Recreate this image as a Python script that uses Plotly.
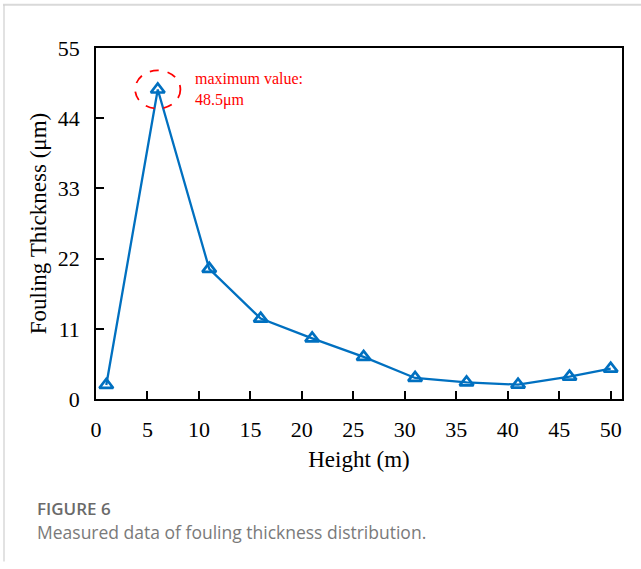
import plotly.graph_objects as go

# ---- data ----
heights = [1, 6, 11, 16, 21, 26, 31, 36, 41, 46, 50]
thickness = [2.2, 48.5, 20.4, 12.6, 9.5, 6.6, 3.3, 2.6, 2.25, 3.5, 4.75]
x_ticks = [0, 5, 10, 15, 20, 25, 30, 35, 40, 45, 50]
y_ticks = [0, 11, 22, 33, 44, 55]
x_title = "Height (m)"
y_title = "Fouling Thickness (μm)"
note_text = "maximum value:<br>48.5μm"
caption_title = "FIGURE 6"
caption_text = "Measured data of fouling thickness distribution."

W, H = 641, 569
L, R, T, B = 96, 19, 47.7, 169.7
pw, ph = W - L - R, H - T - B

def px(xp):
    return (xp - L) / pw

def py(yp):
    return (H - B - yp) / ph

BLUE = "#0070C0"
SERIF = "Liberation Serif, Times New Roman, serif"
SANS = "Open Sans, Noto Sans, sans-serif"

fig = go.Figure()
fig.add_trace(go.Scatter(
    x=heights, y=thickness, mode="lines+markers",
    line=dict(color=BLUE, width=2.3),
    marker=dict(symbol="triangle-up-open", size=12, color=BLUE,
                line=dict(color=BLUE, width=2.7)),
    showlegend=False, cliponaxis=False,
))

i_max = thickness.index(max(thickness))
mx, my = heights[i_max], thickness[i_max]

shapes = [
    dict(type="circle", xref="x", yref="y",
         x0=mx - 2.2, x1=mx + 2.2, y0=my - 3.0, y1=my + 3.0,
         line=dict(color="#FF0000", width=1.8, dash="dash")),
    # card borders
    dict(type="line", xref="paper", yref="paper",
         x0=px(3), x1=px(641), y0=py(4.5), y1=py(4.5),
         line=dict(color="#d9d9d9", width=2)),
    dict(type="line", xref="paper", yref="paper",
         x0=px(4), x1=px(4), y0=py(4.5), y1=py(562),
         line=dict(color="#cfcfcf", width=1.2)),
]

annotations = [
    dict(x=mx + 3.4, y=my, xref="x", yref="y", text=note_text,
         showarrow=False, xanchor="left", yanchor="middle", align="left",
         font=dict(family=SERIF, size=16, color="#FF0000")),
    dict(x=px(35), y=py(509), xref="paper", yref="paper", text=caption_title,
         showarrow=False, xanchor="left", yanchor="middle",
         font=dict(family="Open Sans, sans-serif", size=17, color="#6a6a6a", weight=600)),
    dict(x=px(35), y=py(533), xref="paper", yref="paper", text=caption_text,
         showarrow=False, xanchor="left", yanchor="middle",
         font=dict(family=SANS, size=17.5, color="#7a7a7a")),
]

fig.update_layout(
    width=W, height=H,
    margin=dict(l=L, r=R, t=T, b=B, pad=0),
    paper_bgcolor="white", plot_bgcolor="white",
    shapes=shapes, annotations=annotations,
    xaxis=dict(range=[0, 51.1], tickvals=x_ticks, ticks="inside", ticklen=8,
               tickwidth=1.5, tickcolor="black", showline=True, linecolor="black",
               linewidth=1.5, mirror=True, showgrid=False, zeroline=False,
               ticklabelstandoff=10,
               tickfont=dict(family=SERIF, size=22, color="black"),
               title=dict(text=x_title, font=dict(family=SERIF, size=23, color="black"),
                          standoff=10)),
    yaxis=dict(range=[0, 55], tickvals=y_ticks, ticks="inside", ticklen=8,
               tickwidth=1.5, tickcolor="black", showline=True, linecolor="black",
               linewidth=1.5, mirror=True, showgrid=False, zeroline=False,
               ticklabelstandoff=10,
               tickfont=dict(family=SERIF, size=22, color="black"),
               title=dict(text=y_title, font=dict(family=SERIF, size=23, color="black"),
                          standoff=5)),
)

fig.write_html("out.html")
